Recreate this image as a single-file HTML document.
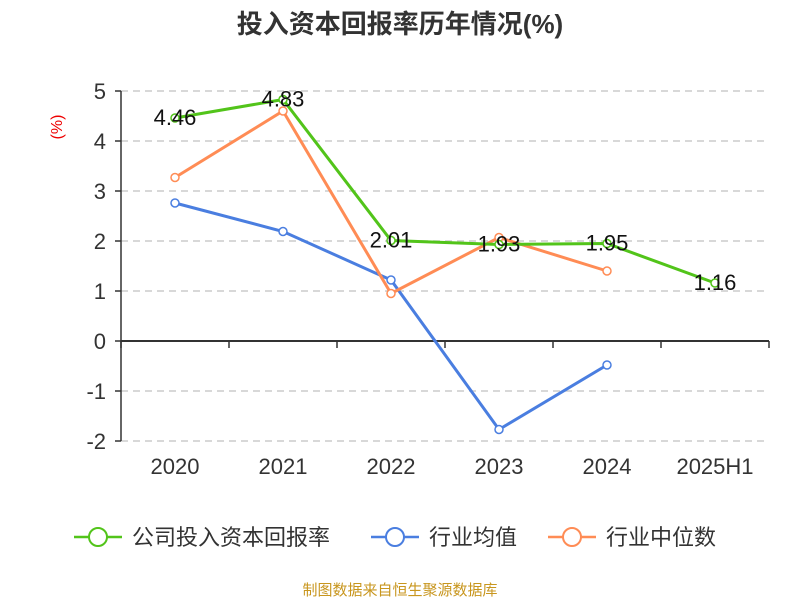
<!DOCTYPE html>
<html><head><meta charset="utf-8"><style>
body{margin:0;background:#fff;font-family:"Liberation Sans","Noto Sans CJK SC",sans-serif}
</style></head><body>
<svg width="800" height="600" xmlns="http://www.w3.org/2000/svg" font-family="Liberation Sans, Noto Sans CJK SC, sans-serif">
<text x="400" y="33" text-anchor="middle" font-size="26" font-weight="bold" fill="#333">投入资本回报率历年情况(%)</text>
<text x="62" y="127" font-size="16" fill="#e00" text-anchor="middle" transform="rotate(-90 62 127)">(%)</text>
<g id="grid"></g><g id="axes"></g><g id="series"></g>
<g font-size="22" fill="#333">
<g><line x1="74" y1="537" x2="122" y2="537" stroke="#52c41a" stroke-width="2.5"/><circle cx="98" cy="537" r="9" fill="#fff" stroke="#52c41a" stroke-width="2"/><text x="132" y="545">公司投入资本回报率</text></g>
<g><line x1="371" y1="537" x2="419" y2="537" stroke="#4a7ee0" stroke-width="2.5"/><circle cx="395" cy="537" r="9" fill="#fff" stroke="#4a7ee0" stroke-width="2"/><text x="429" y="545">行业均值</text></g>
<g><line x1="548" y1="537" x2="596" y2="537" stroke="#ff8c55" stroke-width="2.5"/><circle cx="572" cy="537" r="9" fill="#fff" stroke="#ff8c55" stroke-width="2"/><text x="606" y="545">行业中位数</text></g>
</g>
<text x="400" y="595" text-anchor="middle" font-size="15" fill="#c8961e">制图数据来自恒生聚源数据库</text>
</svg>
<script>
const categories=["2020","2021","2022","2023","2024","2025H1"];
const companyValues=[4.46,4.83,2.01,1.93,1.95,1.16];
const meanValues=[2.76,2.19,1.22,-1.77,-0.48];
const medianValues=[3.27,4.6,0.95,2.07,1.4];
const yTicks=[5,4,3,2,1,0,-1,-2];
const NS="http://www.w3.org/2000/svg";
const L=121,R=769,band=(R-L)/categories.length;
const x=i=>L+band*(i+0.5);
const y=v=>341-v*50;
function mk(t,a,p){const e=document.createElementNS(NS,t);for(const k in a)e.setAttribute(k,a[k]);p.appendChild(e);return e;}
const grid=document.getElementById('grid'),axes=document.getElementById('axes'),ser=document.getElementById('series');
yTicks.forEach(v=>{
 if(v!==0){const g=mk('line',{x1:L,x2:R,y1:y(v),y2:y(v),stroke:'#ccc','stroke-width':1.5,'stroke-dasharray':'7,5'},grid);
 }
 const tk=mk('line',{x1:L-6,x2:L,y1:y(v),y2:y(v),stroke:'#333','stroke-width':1.5},axes);
 
 const t=mk('text',{x:L-15,y:y(v)+8,'text-anchor':'end','font-size':22,fill:'#333'},axes);t.textContent=v;
 
});
const ya=mk('line',{x1:L,x2:L,y1:y(5),y2:y(-2),stroke:'#333','stroke-width':1.5},axes);

const xa=mk('line',{x1:L,x2:R,y1:y(0),y2:y(0),stroke:'#333','stroke-width':2},axes);

for(let i=0;i<=categories.length;i++){const tk=mk('line',{x1:L+band*i,x2:L+band*i,y1:y(0),y2:y(0)+7,stroke:'#333','stroke-width':1.5},axes);
 }
categories.forEach((c,i)=>{const t=mk('text',{x:x(i),y:474,'text-anchor':'middle','font-size':22,fill:'#333'},axes);t.textContent=c;
 });
function draw(vals,color,name){
 const p=mk('polyline',{points:vals.map((v,i)=>x(i)+','+y(v)).join(' '),fill:'none',stroke:color,'stroke-width':3},ser);
 
 vals.forEach((v,i)=>{const c=mk('circle',{cx:x(i),cy:y(v),r:4,fill:'#fff',stroke:color,'stroke-width':1.5},ser);
  });
}
draw(meanValues,'#4a7ee0','industry-mean');
draw(medianValues,'#ff8c55','industry-median');
draw(companyValues,'#52c41a','company');
companyValues.forEach((v,i)=>{const t=mk('text',{x:x(i),y:y(v)+7,'text-anchor':'middle','font-size':22,fill:'#111'},ser);t.textContent=v.toFixed(2);
 });
</script>
</body></html>
